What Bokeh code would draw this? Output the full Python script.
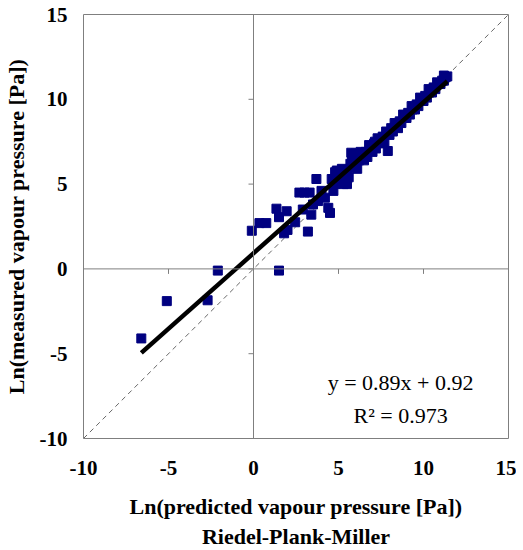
import math
from bokeh.plotting import figure
from bokeh.models import LinearAxis, Label, FixedTicker, Range1d, Span
from bokeh.embed import file_html
from bokeh.resources import INLINE

# ---- data ----
x_pred = [-6.6, -5.1, -2.7, -2.1, 1.5, -0.1, 0.35, 0.75, 1.35, 1.5, 1.95, 1.8, 2.0,
          2.45, 2.7, 3.0, 3.3, 2.9, 3.2, 3.5, 3.7, 3.4, 3.8, 4.2, 4.4, 4.5, 4.0, 4.7,
          4.8, 4.9, 5.3, 5.5, 5.75, 6.25, 7.9, 7.15,
          4.6, 4.8, 5.0, 5.1, 5.2, 5.35, 5.5, 5.6, 5.7, 5.85, 6.0, 6.1, 6.2, 6.35,
          6.5, 6.6, 6.7, 6.85, 7.0, 7.1, 7.2, 7.35, 7.5, 7.6, 7.7, 7.85, 8.0, 8.1,
          8.2, 8.35, 8.5, 8.6, 8.7, 8.85, 9.0, 9.1, 9.2, 9.35, 9.5, 9.6, 9.7, 9.85,
          10.0, 10.1, 10.2, 10.35, 10.5, 10.6, 10.7, 10.85, 11.0, 11.1, 11.2, 11.3, 11.4,
          9.3, 9.8, 10.3, 10.8, 11.2, 8.8, 8.3, 7.8, 7.3, 6.8, 6.3, 5.8, 6.0]
y_meas = [-4.1, -1.9, -1.85, -0.1, -0.1, 2.25, 2.7, 2.7, 3.55, 3.05, 3.4, 2.1, 2.3,
          2.75, 4.5, 4.5, 4.5, 3.5, 2.2, 3.8, 5.3, 3.2, 4.0, 4.2, 3.6, 3.3, 4.6, 4.6,
          5.7, 5.8, 5.0, 5.0, 6.85, 6.75, 6.95, 7.5,
          5.3, 5.0, 5.6, 5.2, 5.9, 5.5, 5.8, 5.4, 6.2, 6.0, 6.5, 5.9, 6.4, 6.6,
          6.4, 6.9, 6.6, 7.1, 6.9, 7.4, 7.1, 7.5, 7.4, 7.8, 7.5, 8.0, 7.9, 8.3,
          8.1, 8.4, 8.3, 8.7, 8.6, 8.9, 8.9, 9.2, 9.1, 9.4, 9.4, 9.7, 9.6, 9.9,
          9.9, 10.2, 10.1, 10.4, 10.4, 10.7, 10.6, 10.9, 10.9, 11.1, 11.1, 11.3, 11.35,
          9.6, 10.1, 10.6, 11.0, 11.4, 9.1, 8.6, 8.1, 7.7, 7.3, 6.9, 6.5, 6.8]
slope = 0.89
intercept = 0.92
r2 = 0.973
ticks = [-10, -5, 0, 5, 10, 15]
tick_labels = ["-10", "-5", "0", "5", "10", "15"]
axis_min, axis_max = -10, 15
x_title = "Ln(predicted vapour pressure [Pa])\nRiedel-Plank-Miller"
y_title = "Ln(measured vapour pressure [Pa])"

SERIF = "Liberation Serif"
GRAY = "#7f7f7f"

p = figure(frame_width=425, frame_height=424,
           x_range=Range1d(axis_min, axis_max), y_range=Range1d(axis_min, axis_max),
           output_backend="svg", toolbar_location=None,
           x_axis_location=None, y_axis_location=None,
           min_border_left=81, min_border_right=8, min_border_top=14, min_border_bottom=60)
p.grid.visible = False
p.outline_line_color = GRAY
p.outline_line_width = 1
p.background_fill_color = "white"
p.border_fill_color = "white"

# label axes at frame edges
overrides = {t: lab for t, lab in zip(ticks, tick_labels)}
xa = LinearAxis(ticker=FixedTicker(ticks=ticks))
ya = LinearAxis(ticker=FixedTicker(ticks=ticks))
for ax in (xa, ya):
    ax.axis_line_color = None
    ax.major_tick_out = 0
    ax.major_tick_in = 0
    ax.minor_tick_line_color = None
    ax.major_label_overrides = overrides
    ax.major_label_text_font = SERIF
    ax.major_label_text_font_style = "bold"
    ax.major_label_text_font_size = "21px"
    ax.major_label_text_color = "black"
    ax.axis_label_text_font = SERIF
    ax.axis_label_text_font_style = "bold"
    ax.axis_label_text_font_size = "22px"
    ax.axis_label_text_color = "black"
xa.major_label_standoff = 22
ya.major_label_standoff = 16
xa.axis_label = x_title
ya.axis_label = y_title
xa.axis_label_standoff = 16
ya.axis_label_standoff = 8
p.add_layout(xa, "below")
p.add_layout(ya, "left")

# crosshair axis lines through zero
p.add_layout(Span(location=0, dimension="width", line_color=GRAY, line_width=1))
p.add_layout(Span(location=0, dimension="height", line_color=GRAY, line_width=1))
tick_zero = [0] * len(ticks)
p.ray(x=ticks, y=tick_zero, length=5, length_units="screen", angle=-math.pi / 2,
      line_color=GRAY, line_width=1)
p.ray(x=tick_zero, y=ticks, length=5, length_units="screen", angle=math.pi,
      line_color=GRAY, line_width=1)

# 1:1 line
p.line([axis_min, axis_max], [axis_min, axis_max], line_color="#404040",
       line_width=0.8, line_dash="5 4")

# data
p.scatter(x_pred, y_meas, marker="square", size=9, fill_color="#000080",
          line_color="#000080")

# regression line
x0, x1 = min(x_pred), max(x_pred)
p.line([x0, x1], [slope * x0 + intercept, slope * x1 + intercept],
       line_color="black", line_width=4.5)

eq1 = Label(x=8.65, y=-6.7, text=f"y = {slope}x + {intercept}", text_align="center",
            text_baseline="alphabetic", text_font=SERIF, text_font_size="22px",
            text_color="black")
eq2 = Label(x=8.65, y=-8.65, text=f"R\u00b2 = {r2}", text_align="center",
            text_baseline="alphabetic", text_font=SERIF, text_font_size="22px",
            text_color="black")
p.add_layout(eq1)
p.add_layout(eq2)

open("out.html", "w").write(file_html(p, INLINE))
